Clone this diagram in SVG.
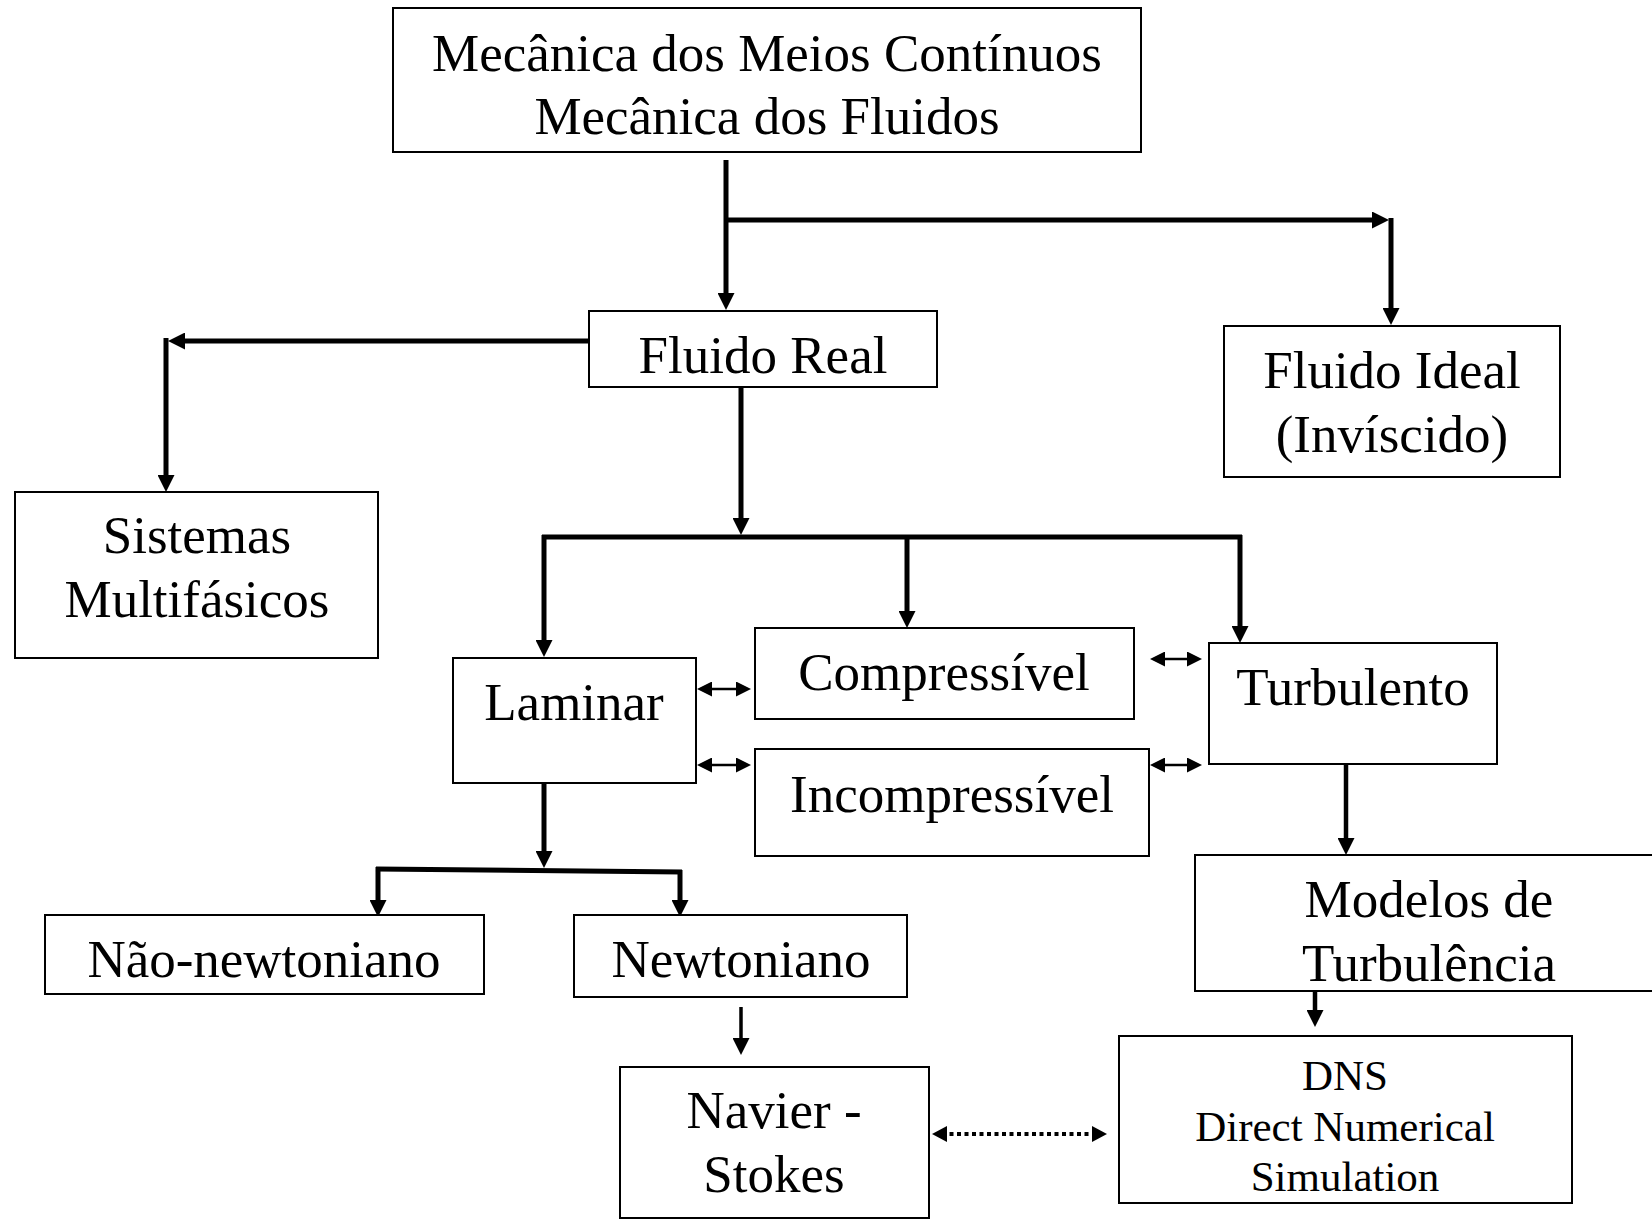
<svg xmlns="http://www.w3.org/2000/svg" width="1652" height="1224" viewBox="0 0 1652 1224">
<style>
  .box { fill: #fff; stroke: #000; stroke-width: 2; }
  .t { font-family: "Liberation Serif", "Times New Roman", serif; font-size: 53px; fill: #000; text-anchor: middle; }
  .ts { font-family: "Liberation Serif", "Times New Roman", serif; font-size: 43px; fill: #000; text-anchor: middle; }
  .c { fill: none; stroke: #000; stroke-width: 5; }
  .cm { fill: none; stroke: #000; stroke-width: 4.5; }
  .cn { fill: none; stroke: #000; stroke-width: 3.5; }
  .thin { fill: none; stroke: #000; stroke-width: 2.5; }
  .dot { fill: none; stroke: #000; stroke-width: 4; stroke-dasharray: 4 3.5; }
</style>
<defs>
  <marker id="ah" markerUnits="userSpaceOnUse" markerWidth="17" markerHeight="17" refX="6" refY="8.5" orient="auto">
    <path d="M0,0 L17,8.5 L0,17 z" fill="#000"/>
  </marker>
  <marker id="sa" markerUnits="userSpaceOnUse" markerWidth="15" markerHeight="15" refX="5" refY="7.5" orient="auto-start-reverse">
    <path d="M0,0 L15,7.5 L0,15 z" fill="#000"/>
  </marker>
  <marker id="da" markerUnits="userSpaceOnUse" markerWidth="15" markerHeight="16" refX="5" refY="8" orient="auto-start-reverse">
    <path d="M0,0 L15,8 L0,16 z" fill="#000"/>
  </marker>
</defs>

<g id="connectors">
  <path class="c" d="M726,160 V299" marker-end="url(#ah)"/>
  <path class="c" d="M724,220 H1378" marker-end="url(#ah)"/>
  <path class="c" d="M1391,218 V314" marker-end="url(#ah)"/>
  <path class="c" d="M589,341 H179" marker-end="url(#ah)"/>
  <path class="c" d="M166,338 V481" marker-end="url(#ah)"/>
  <path class="c" d="M741,387 V524" marker-end="url(#ah)"/>
  <path class="c" d="M542,537 H1242"/>
  <path class="c" d="M544,535 V646" marker-end="url(#ah)"/>
  <path class="c" d="M907,537 V617" marker-end="url(#ah)"/>
  <path class="c" d="M1240,535 V632" marker-end="url(#ah)"/>
  <path class="thin" d="M707,689 H741" marker-start="url(#sa)" marker-end="url(#sa)"/>
  <path class="thin" d="M707,765 H741" marker-start="url(#sa)" marker-end="url(#sa)"/>
  <path class="thin" d="M1160,659 H1192" marker-start="url(#sa)" marker-end="url(#sa)"/>
  <path class="thin" d="M1160,765 H1192" marker-start="url(#sa)" marker-end="url(#sa)"/>
  <path class="c" d="M544,780 V857" marker-end="url(#ah)"/>
  <path class="c" d="M376,869 L682,872"/>
  <path class="c" d="M378,867 V906" marker-end="url(#ah)"/>
  <path class="c" d="M680,870 V906" marker-end="url(#ah)"/>
  <path class="cn" d="M741,1007 V1044" marker-end="url(#ah)"/>
  <path class="cm" d="M1346,764 V844" marker-end="url(#ah)"/>
  <path class="cm" d="M1315,991 V1016" marker-end="url(#ah)"/>
  <path class="dot" d="M942,1134 H1097" marker-start="url(#da)" marker-end="url(#da)"/>
</g>

<g id="mecanica">
  <rect class="box" x="393" y="8" width="748" height="144"/>
  <text class="t" x="767" y="71">Mecânica dos Meios Contínuos</text>
  <text class="t" x="767" y="134">Mecânica dos Fluidos</text>
</g>
<g id="fluido-real">
  <rect class="box" x="589" y="311" width="348" height="76"/>
  <text class="t" x="763" y="373">Fluido Real</text>
</g>
<g id="fluido-ideal">
  <rect class="box" x="1224" y="326" width="336" height="151"/>
  <text class="t" x="1392" y="388">Fluido Ideal</text>
  <text class="t" x="1392" y="452">(Invíscido)</text>
</g>
<g id="multifasicos">
  <rect class="box" x="15" y="492" width="363" height="166"/>
  <text class="t" x="197" y="553">Sistemas</text>
  <text class="t" x="197" y="617">Multifásicos</text>
</g>
<g id="laminar">
  <rect class="box" x="453" y="658" width="243" height="125"/>
  <text class="t" x="574" y="720">Laminar</text>
</g>
<g id="compressivel">
  <rect class="box" x="755" y="628" width="379" height="91"/>
  <text class="t" x="944" y="690">Compressível</text>
</g>
<g id="incompressivel">
  <rect class="box" x="755" y="749" width="394" height="107"/>
  <text class="t" x="952" y="812">Incompressível</text>
</g>
<g id="turbulento">
  <rect class="box" x="1209" y="643" width="288" height="121"/>
  <text class="t" x="1353" y="705">Turbulento</text>
</g>
<g id="modelos">
  <rect class="box" x="1195" y="855" width="470" height="136"/>
  <text class="t" x="1429" y="917">Modelos de</text>
  <text class="t" x="1429" y="981">Turbulência</text>
</g>
<g id="dns">
  <rect class="box" x="1119" y="1036" width="453" height="167"/>
  <text class="ts" x="1345" y="1090">DNS</text>
  <text class="ts" x="1345" y="1141">Direct Numerical</text>
  <text class="ts" x="1345" y="1191">Simulation</text>
</g>
<g id="nao-newtoniano">
  <rect class="box" x="45" y="915" width="439" height="79"/>
  <text class="t" x="264" y="977">Não-newtoniano</text>
</g>
<g id="newtoniano">
  <rect class="box" x="574" y="915" width="333" height="82"/>
  <text class="t" x="741" y="977">Newtoniano</text>
</g>
<g id="navier-stokes">
  <rect class="box" x="620" y="1067" width="309" height="151"/>
  <text class="t" x="774" y="1128">Navier -</text>
  <text class="t" x="774" y="1192">Stokes</text>
</g>
</svg>
